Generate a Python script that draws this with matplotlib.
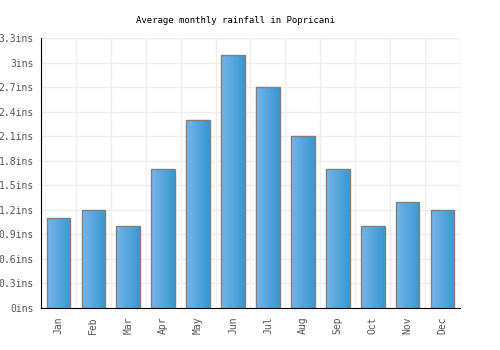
import numpy as np
import matplotlib
matplotlib.use("Agg")
import matplotlib.pyplot as plt
from matplotlib.colors import LinearSegmentedColormap

# ─── Data ────────────────────────────────────────────────────────────────────
months = ["Jan", "Feb", "Mar", "Apr", "May", "Jun",
          "Jul", "Aug", "Sep", "Oct", "Nov", "Dec"]
rainfall = [1.1, 1.2, 1.0, 1.7, 2.3, 3.1, 2.7, 2.1, 1.7, 1.0, 1.3, 1.2]
yticks = [0, 0.3, 0.6, 0.9, 1.2, 1.5, 1.8, 2.1, 2.4, 2.7, 3.0, 3.3]
ytick_labels = ["0ins", "0.3ins", "0.6ins", "0.9ins", "1.2ins", "1.5ins",
                "1.8ins", "2.1ins", "2.4ins", "2.7ins", "3ins", "3.3ins"]

plt.rcParams["font.family"] = ["DejaVu Sans Mono"]

fig = plt.figure(figsize=(5, 3.5), dpi=100)
ax = fig.add_axes([0.082, 0.12, 0.838, 0.771])

x = np.arange(len(months))
bars = ax.bar(x, rainfall, width=0.68, color="none",
              edgecolor="#808080", linewidth=1, zorder=3)

# horizontal gradient fill for each bar
cmap = LinearSegmentedColormap.from_list("blu", ["#74b5ea", "#3a97d0"])
grad = np.linspace(0, 1, 64).reshape(1, -1)
for b in bars:
    x0, y0 = b.get_x(), b.get_y()
    w, h = b.get_width(), b.get_height()
    im = ax.imshow(grad, cmap=cmap, aspect="auto", zorder=2,
                   extent=[x0, x0 + w, y0, y0 + h])
    im.set_clip_path(b)

ax.set_xlim(-0.5, len(months) - 0.5)
ax.set_ylim(0, 3.3)
ax.set_yticks(yticks)
ax.set_yticklabels(ytick_labels)
ax.set_xticks(x)
ax.set_xticklabels(months, rotation=90)
ax.set_xticks(np.arange(0.5, len(months)), minor=True)
ax.tick_params(axis="both", which="both", length=0, labelsize=7,
               labelcolor="#555555")
ax.tick_params(axis="x", pad=6)
ax.tick_params(axis="y", pad=5)

ax.grid(axis="y", color="#eeeeee", linewidth=1, zorder=0)
ax.grid(axis="x", which="minor", color="#eeeeee", linewidth=1, zorder=0)
ax.set_axisbelow(True)

for s in ["top", "right"]:
    ax.spines[s].set_visible(False)
ax.spines["left"].set_color("black")
ax.spines["bottom"].set_color("black")
ax.axhline(3.3, color="#eeeeee", linewidth=1, zorder=0)
ax.axvline(len(months) - 0.5, color="#eeeeee", linewidth=1, zorder=0)

fig.suptitle("Average monthly rainfall in Popricani", fontsize=6.5,
             y=0.955, x=0.47)

plt.savefig("out.png", dpi=100)
